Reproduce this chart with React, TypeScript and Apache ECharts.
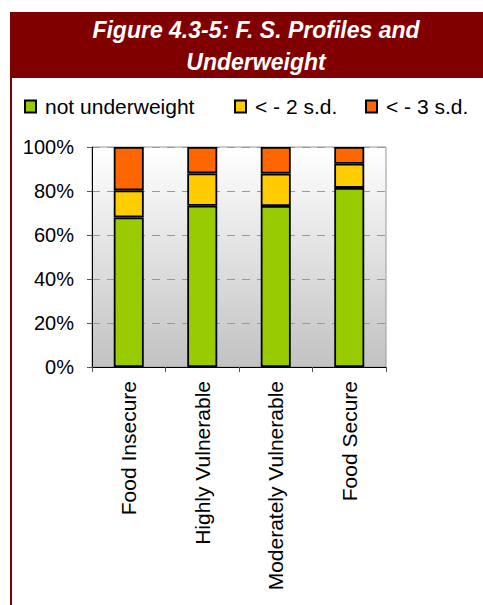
import React, { useEffect, useRef } from "react";
import * as echarts from "echarts";

const categories = ["Food Insecure", "Highly Vulnerable", "Moderately Vulnerable", "Food Secure"];
const notUnderweight = [68.0, 73.3, 73.2, 81.4];
const below2sd = [12.3, 14.7, 14.7, 11.0];
const below3sd = [19.7, 12.0, 12.1, 7.6];
const seriesNames = ["not underweight", "< - 2 s.d.", "< - 3 s.d."];
const seriesColors = ["#99CC00", "#FFCC00", "#FF6600"];
const yTicks = [0, 20, 40, 60, 80, 100];

const FONT = "Liberation Sans, Arial, sans-serif";

export default function App() {
  const ref = useRef<HTMLDivElement>(null);
  useEffect(() => {
    if (!ref.current) return;
    const chart = echarts.init(ref.current, undefined, { renderer: "svg" });
    const values = [notUnderweight, below2sd, below3sd];
    const legendLefts = [19, 229, 360];
    chart.setOption({
      animation: false,
      backgroundColor: "#ffffff",
      title: {
        text: "Figure 4.3-5: F. S. Profiles and\nUnderweight",
        left: 251,
        top: 9,
        textAlign: "center",
        textStyle: {
          color: "#ffffff",
          fontSize: 23,
          fontWeight: "bold",
          fontStyle: "italic",
          fontFamily: FONT,
          lineHeight: 32,
        },
      },
      graphic: [
        { type: "rect", z: -1, shape: { x: 11, y: 12, width: 472, height: 66 }, style: { fill: "#800000" } },
        { type: "rect", z: -1, shape: { x: 10, y: 12, width: 2, height: 593 }, style: { fill: "#800000" } },
      ],
      legend: seriesNames.map((n, i) => ({
        data: [n],
        left: legendLefts[i],
        top: 91,
        icon: "rect",
        itemWidth: 11,
        itemHeight: 12,
        selectedMode: false,
        textStyle: { fontSize: 21, color: "#000", fontFamily: FONT, padding: [0, 0, 0, 4] },
      })),
      grid: {
        left: 92,
        top: 147,
        width: 294,
        height: 220,
        show: true,
        borderColor: "#999999",
        borderWidth: 1,
        backgroundColor: new echarts.graphic.LinearGradient(0, 0, 0, 1, [
          { offset: 0, color: "#ffffff" },
          { offset: 1, color: "#c2c2c2" },
        ]),
      },
      xAxis: {
        type: "category",
        data: categories,
        boundaryGap: true,
        axisLine: { lineStyle: { color: "#000", width: 1 } },
        axisTick: { show: true, length: 5, alignWithLabel: false, lineStyle: { color: "#555" } },
        axisLabel: {
          rotate: 90,
          margin: 14,
          fontSize: 21,
          color: "#000",
          fontFamily: FONT,
          interval: 0,
        },
      },
      yAxis: {
        type: "value",
        min: yTicks[0],
        max: yTicks[yTicks.length - 1],
        interval: 20,
        axisLine: { show: true, lineStyle: { color: "#000", width: 1 } },
        axisTick: { show: true, length: 5, lineStyle: { color: "#555" } },
        axisLabel: {
          formatter: "{value}%",
          margin: 18,
          fontSize: 20,
          color: "#000",
          fontFamily: FONT,
        },
        splitLine: { show: true, lineStyle: { color: "#999999", type: [8, 7], width: 1 } },
      },
      series: seriesNames.map((n, i) => ({
        name: n,
        type: "bar",
        stack: "total",
        barWidth: 30,
        data: values[i],
        itemStyle: { color: seriesColors[i], borderColor: "#000", borderWidth: 1.8 },
      })),
    });
    return () => chart.dispose();
  }, []);
  return (
    <div
      ref={ref}
      style={{ position: "fixed", left: 0, top: 0, width: 483, height: 605 }}
    />
  );
}
